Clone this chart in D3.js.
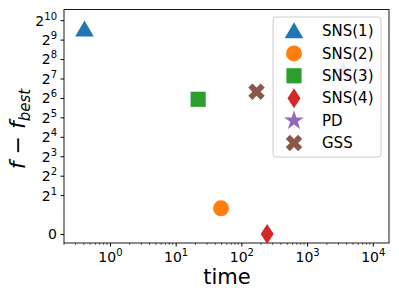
<!DOCTYPE html>
<html lang="en">
<head>
    <meta charset="UTF-8">
    <title>f - f_best vs time</title>
    <script src="https://d3js.org/d3.v7.min.js"></script>
    <style>
        body { margin: 0; background: #fff; }
        text { font-family: "DejaVu Sans", sans-serif; }
    </style>
</head>
<body>
    <div id="chart"></div>
    <script>
        var methods = ["SNS(1)", "SNS(2)", "SNS(3)", "SNS(4)", "PD", "GSS"];
        var times = [0.41, 49, 22, 247, 3540, 170];
        var gaps = [744, 1.25, 61, 0, 167, 80];
        var colors = ["#1f77b4", "#ff7f0e", "#2ca02c", "#d62728", "#9467bd", "#8c564b"];
        var xTicks = [1, 10, 100, 1000, 10000];
        var yTicks = [0, 2, 4, 8, 16, 32, 64, 128, 256, 512, 1024];

        var width = 399, height = 299;
        var plotL = 64, plotR = 389, plotT = 9.5, plotB = 243;

        // symlog base 2, linear part below 1
        var tf = v => v <= 1 ? v : Math.log2(v) + 1;

        var xScale = d3.scaleLog().domain([0.2, 17650]).range([plotL, plotR]);
        var yT = d3.scaleLinear().domain([-0.463, 11.55]).range([plotB, plotT]);
        var yScale = v => yT(tf(v));

        var shapes = [
            d3.symbol().type(d3.symbolTriangle).size(150),
            d3.symbol().type(d3.symbolCircle).size(200),
            d3.symbol().type(d3.symbolSquare).size(230),
            null,
            d3.symbol().type(d3.symbolStar).size(120),
            d3.symbol().type(d3.symbolCross).size(170)
        ];
        // thin diamond like matplotlib 'd'
        function marker(i) {
            if (i === 3) return "M0,-10L6.5,0L0,10L-6.5,0Z";
            return shapes[i]();
        }
        function rot(i) { return i === 5 ? " rotate(45)" : (i === 0 ? " translate(0,2)" : ""); }

        var svg = d3.select('#chart').append('svg')
            .attr('width', width)
            .attr('height', height);

        // x axis
        var xAxis = svg.append('g')
            .attr('transform', 'translate(0,' + plotB + ')')
            .call(d3.axisBottom(xScale).tickValues(xTicks).tickSize(3.5).tickFormat(''));
        xAxis.selectAll('.tick text').remove();
        xAxis.selectAll('.tick').append('text')
            .attr('y', 19)
            .attr('fill', '#000')
            .attr('text-anchor', 'middle')
            .style('font-size', '14px')
            .each(function(d) {
                var t = d3.select(this);
                t.append('tspan').text('10');
                t.append('tspan').attr('dy', -6).style('font-size', '10px').text(Math.round(Math.log10(d)));
            });
        // minor ticks
        var minors = [];
        [0.1, 1, 10, 100, 1000, 10000].forEach(function(dec) {
            for (var k = 2; k <= 9; k++) {
                var v = dec * k;
                if (v >= 0.2 && v <= 17650) minors.push(v);
            }
        });
        svg.append('g').selectAll('line').data(minors).enter().append('line')
            .attr('x1', d => xScale(d)).attr('x2', d => xScale(d))
            .attr('y1', plotB).attr('y2', plotB + 2)
            .attr('stroke', '#000').attr('stroke-width', 0.6);

        // y axis
        var yAxis = svg.append('g')
            .attr('transform', 'translate(' + plotL + ',0)')
            .call(d3.axisLeft(yT).tickValues(yTicks.map(tf)).tickSize(3.5).tickFormat(''));
        yAxis.selectAll('.tick text').remove();
        yAxis.selectAll('.tick').append('text')
            .attr('x', -7)
            .attr('dy', '0.35em')
            .attr('fill', '#000')
            .attr('text-anchor', 'end')
            .style('font-size', '14px')
            .each(function(d) {
                var t = d3.select(this);
                if (d === 0) { t.text('0'); return; }
                t.append('tspan').text('2');
                t.append('tspan').attr('dy', -6).style('font-size', '10px').text(d - 1);
            });

        svg.selectAll('.domain').remove();
        svg.append('rect')
            .attr('x', plotL).attr('y', plotT)
            .attr('width', plotR - plotL).attr('height', plotB - plotT)
            .attr('fill', 'none').attr('stroke', '#000').attr('stroke-width', 0.9);

        // points
        svg.append('g').selectAll('path')
            .data(methods)
            .enter().append('path')
                .attr('d', (d, i) => marker(i))
                .attr('fill', (d, i) => colors[i])
                .attr('transform', (d, i) => 'translate(' + xScale(times[i]) + ',' + yScale(gaps[i]) + ')' + rot(i));

        // labels
        svg.append('text')
            .attr('x', 227).attr('y', 284)
            .attr('text-anchor', 'middle')
            .style('font-size', '21px')
            .text('time');

        var yl = svg.append('text')
            .attr('transform', 'translate(25,129) rotate(-90)')
            .attr('text-anchor', 'middle')
            .style('font-size', '22px');
        yl.append('tspan').style('font-style', 'italic').text('f');
        yl.append('tspan').text(' \u2212 ');
        yl.append('tspan').style('font-style', 'italic').text('f');
        yl.append('tspan').attr('dy', 5).style('font-style', 'italic').style('font-size', '15px').text('best');

        // legend
        var lg = svg.append('g');
        lg.append('rect')
            .attr('x', 273).attr('y', 17)
            .attr('width', 108).attr('height', 140)
            .attr('rx', 3)
            .attr('fill', '#fff').attr('fill-opacity', 0.85)
            .attr('stroke', '#ccc');
        var rows = lg.selectAll('g.row')
            .data(methods)
            .enter().append('g')
                .attr('transform', (d, i) => 'translate(294,' + (31 + i * 22.4) + ')');
        rows.append('path')
            .attr('d', (d, i) => marker(i))
            .attr('fill', (d, i) => colors[i])
            .attr('transform', (d, i) => rot(i).trim());
        rows.append('text')
            .attr('x', 28).attr('dy', '0.35em')
            .style('font-size', '15px')
            .text(d => d);
    </script>
</body>
</html>
